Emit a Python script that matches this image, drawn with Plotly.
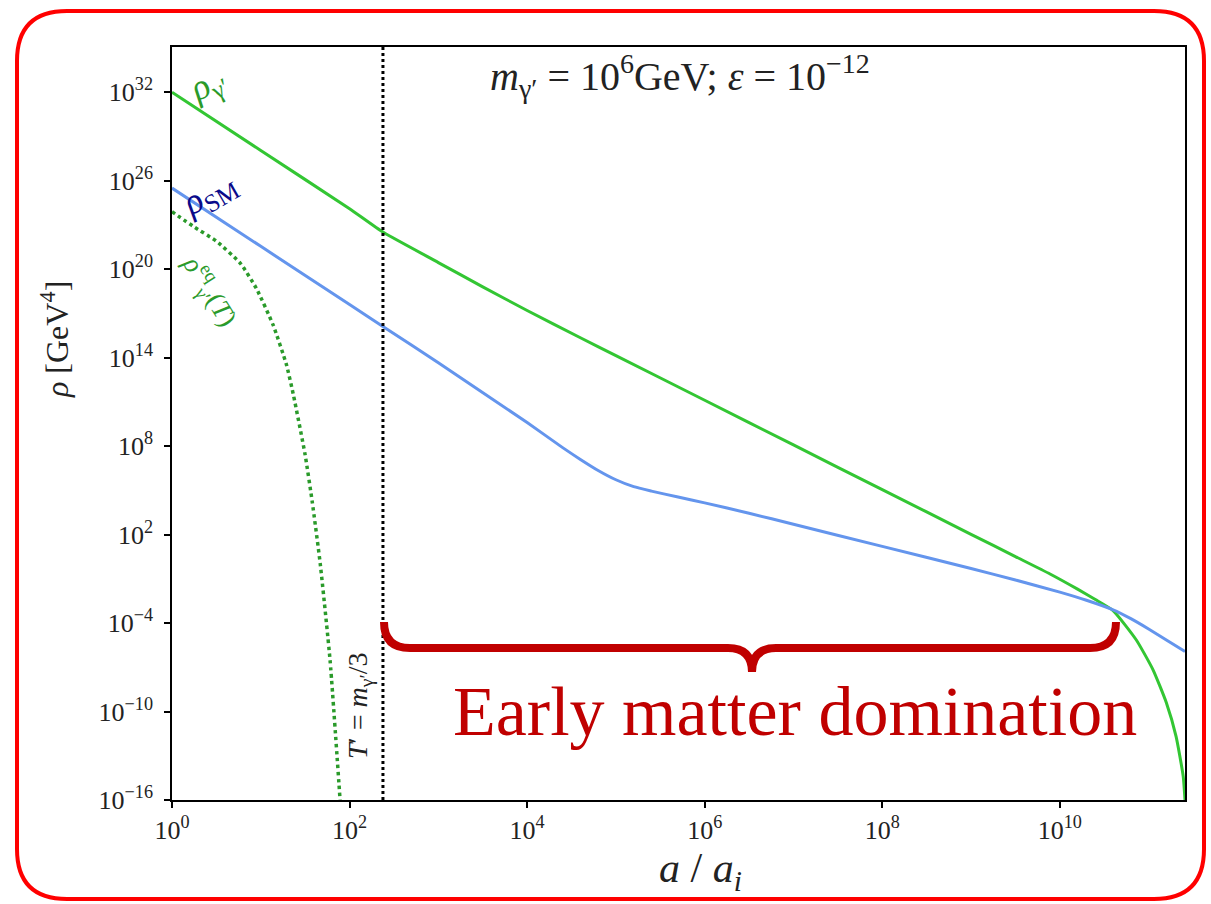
import plotly.graph_objects as go

# ---- data (exponents) ----
log_a_gamma = [0, 1, 2, 2.38, 3.0, 3.5, 4.0, 4.6, 5.0, 6.0, 7.0, 8.0, 9.0, 9.5, 9.89,
               10.2, 10.4, 10.6, 10.86, 11.05, 11.2, 11.31, 11.39, 11.41]
log_rho_gamma = [32, 28.05, 24.1, 22.5, 20.45, 18.8, 17.2, 15.35, 14.14, 11.11, 8.08,
                 5.05, 2.02, 0.51, -0.67, -1.7, -2.4, -3.15, -5.13, -7.17, -9.4,
                 -11.7, -14.4, -16]

log_a_sm = [0, 1, 2, 2.38, 3, 4, 4.4, 4.6, 4.8, 5.0, 5.2, 5.4, 5.7, 6.0, 6.5, 7.0, 8.0,
            9.0, 9.5, 10.0, 10.3, 10.6, 10.8, 11.0, 11.2, 11.41]
log_rho_sm = [25.5, 21.55, 17.6, 16.1, 13.65, 9.6, 7.9, 7.1, 6.35, 5.72, 5.25, 4.95,
              4.55, 4.15, 3.45, 2.7, 1.2, -0.3, -1.08, -1.9, -2.45, -3.1, -3.7, -4.4,
              -5.15, -5.93]

log_a_eq = [0, 0.24, 0.5, 0.77, 0.95, 1.14, 1.29, 1.37, 1.5, 1.58, 1.67, 1.78, 1.9]
log_rho_eq = [23.9, 22.9, 21.9, 20.4, 18.7, 16.2, 13.5, 11.4, 7.4, 4.2, 0.0, -6.5, -16.6]

log_a_tprime = 2.376          # T' = m/3 marker
x_tick_exp = [0, 2, 4, 6, 8, 10]
y_tick_exp = [32, 26, 20, 14, 8, 2, -4, -10, -16]
x_range_exp = [0, 11.41]
y_range_exp = [-16, 35.07]

# ---- geometry helpers (pixel -> paper) ----
L, R, T, B = 172, 26, 47, 104
W, H = 1211, 904
PW, PH = W - L - R, H - T - B


def px(x):
    return (x - L) / PW


def py(y):
    return (H - B - y) / PH


def pt(x, y):
    return f"{px(x):.5f},{py(y):.5f}"


def pw(v):
    return 10.0 ** v


SERIF = "Liberation Serif, DejaVu Serif, serif"
GREEN = "#33c633"
DGREEN = "#2a9a2a"
BLUE = "#6495ED"

fig = go.Figure()

fig.add_trace(go.Scatter(
    x=[pw(v) for v in log_a_gamma], y=[pw(v) for v in log_rho_gamma],
    mode="lines", line=dict(color=GREEN, width=3, shape="spline", smoothing=0.5),
    showlegend=False))
fig.add_trace(go.Scatter(
    x=[pw(v) for v in log_a_sm], y=[pw(v) for v in log_rho_sm],
    mode="lines", line=dict(color=BLUE, width=3, shape="spline", smoothing=0.5),
    showlegend=False))
fig.add_trace(go.Scatter(
    x=[pw(v) for v in log_a_eq], y=[pw(v) for v in log_rho_eq],
    mode="lines", line=dict(color=DGREEN, width=3.5, dash="dot", shape="spline", smoothing=0.5),
    showlegend=False))
fig.add_trace(go.Scatter(
    x=[pw(log_a_tprime)] * 2, y=[pw(y_range_exp[0]), pw(y_range_exp[1])],
    mode="lines", line=dict(color="black", width=3, dash="dot"),
    showlegend=False))

fig.update_xaxes(
    type="log", range=x_range_exp,
    tickvals=[pw(e) for e in x_tick_exp],
    ticktext=[f"10<sup>{e}</sup>" for e in x_tick_exp],
    ticks="outside", ticklen=6, tickwidth=1.5, tickcolor="black",
    showline=True, linecolor="black", linewidth=1.5, mirror=True,
    showgrid=False, zeroline=False,
    tickfont=dict(family=SERIF, size=26, color="#222"))
fig.update_yaxes(
    type="log", range=y_range_exp,
    tickvals=[pw(e) for e in y_tick_exp],
    ticktext=[f"10<sup>{e if e >= 0 else '−' + str(-e)}</sup>" for e in y_tick_exp],
    ticks="outside", ticklen=6, tickwidth=1.5, tickcolor="black",
    showline=True, linecolor="black", linewidth=1.5, mirror=True,
    showgrid=False, zeroline=False, ticklabelstandoff=6,
    tickfont=dict(family=SERIF, size=26, color="#222"))

ann = []


def add_text(x, y, text, size, color="#222", angle=0, family=SERIF, xa="center", ya="middle"):
    ann.append(dict(x=px(x), y=py(y), xref="paper", yref="paper", text=text,
                    showarrow=False, textangle=angle, xanchor=xa, yanchor=ya,
                    font=dict(family=family, size=size, color=color)))


add_text(680, 76, "<i>m</i><sub>γ′</sub> = 10<sup>6</sup>GeV; <i>ε</i> = 10<sup>−12</sup>", 40)
add_text(208, 86, "<i>ρ</i><sub>γ′</sub>", 36, DGREEN, angle=-28)
add_text(209, 194, "<i>ρ</i><sub>SM</sub>", 36, "#0a0a8a", angle=-30)
add_text(210, 290, "<i>ρ</i><sup>eq</sup><sub>γ′</sub>(<i>T</i>)", 27, DGREEN, angle=58)
add_text(359, 706, "<i>T</i>′ = <i>m</i><sub>γ′</sub>/3", 28, "#222", angle=-90)
add_text(55, 340, "<i>ρ</i> [GeV<sup>4</sup>]", 32, "#222", angle=-90)
add_text(700, 871, "<i>a</i> / <i>a<sub>i</sub></i>", 42, "#222")
add_text(795, 711, "Early matter domination", 70, "#c00000")

shapes = []
# curly brace
brace = ("M " + pt(384, 622) + " Q " + pt(384, 648) + " " + pt(410, 648) +
         " L " + pt(728, 648) + " Q " + pt(752, 648) + " " + pt(752, 672) +
         " Q " + pt(752, 648) + " " + pt(776, 648) +
         " L " + pt(1090, 648) + " Q " + pt(1116, 648) + " " + pt(1116, 622))
shapes.append(dict(type="path", xref="paper", yref="paper", path=brace,
                   line=dict(color="#c00000", width=8)))
# rounded red frame
x0, x1, y0, y1, r = 17, 1204, 11, 899, 50
frame = ("M " + pt(x0 + r, y0) + " L " + pt(x1 - r, y0) +
         " Q " + pt(x1, y0) + " " + pt(x1, y0 + r) +
         " L " + pt(x1, y1 - r) + " Q " + pt(x1, y1) + " " + pt(x1 - r, y1) +
         " L " + pt(x0 + r, y1) + " Q " + pt(x0, y1) + " " + pt(x0, y1 - r) +
         " L " + pt(x0, y0 + r) + " Q " + pt(x0, y0) + " " + pt(x0 + r, y0) + " Z")
shapes.append(dict(type="path", xref="paper", yref="paper", path=frame,
                   line=dict(color="#ff0000", width=4)))

fig.update_layout(
    width=W, height=H,
    margin=dict(l=L, r=R, t=T, b=B, pad=0),
    paper_bgcolor="white", plot_bgcolor="white",
    annotations=ann, shapes=shapes, showlegend=False,
    font=dict(family=SERIF))

fig.write_html("out.html")
